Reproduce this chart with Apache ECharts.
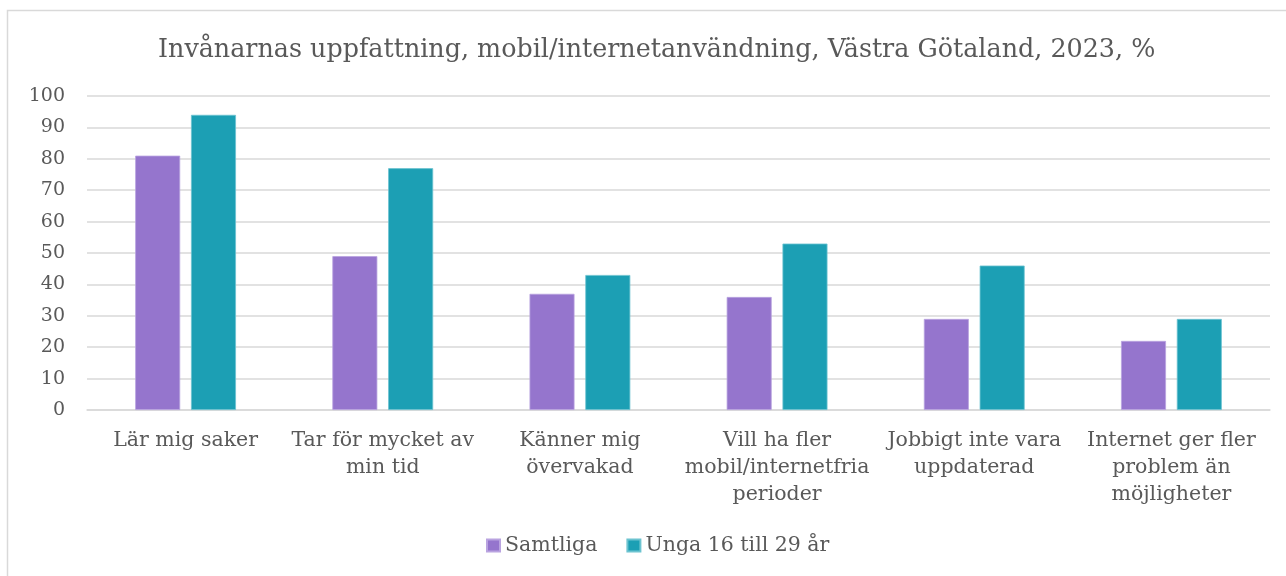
<!DOCTYPE html>
<html><head><meta charset="utf-8">
<script src="https://cdn.jsdelivr.net/npm/echarts@6/dist/echarts.min.js"></script>
<style>html,body{margin:0;padding:0;background:#fff}#c{width:1286px;height:576px}</style>
</head><body><div id="c"></div>
<script>
const categories = ["Lär mig saker","Tar för mycket av\nmin tid","Känner mig\növervakad","Vill ha fler\nmobil/internetfria\nperioder","Jobbigt inte vara\nuppdaterad","Internet ger fler\nproblem än\nmöjligheter"];
const samtliga = [81,49,37,36,29,22];
const unga = [94,77,43,53,46,29];
const seriesNames = ["Samtliga","Unga 16 till 29 år"];
const titleText = "Invånarnas uppfattning, mobil/internetanvändning, Västra Götaland, 2023, %";
const FONT = "'DejaVu Serif', Georgia, serif";
const chart = echarts.init(document.getElementById('c'));
chart.setOption({
  animation:false,
  textStyle:{fontFamily:FONT},
  graphic:[{type:'rect',shape:{x:7.5,y:10.5,width:1400,height:700},style:{fill:'none',stroke:'#d9d9d9',lineWidth:1.5},silent:true}],
  title:{text:titleText,left:153,top:33,textStyle:{fontFamily:FONT,fontWeight:'normal',fontSize:25.4,color:'#595959'}},
  legend:{bottom:20,left:486,padding:0,itemWidth:13,itemHeight:12,itemGap:29,icon:'rect',textStyle:{fontFamily:FONT,fontSize:20.5,color:'#595959'},data:seriesNames},
  grid:{left:87,right:16,top:96,bottom:166,containLabel:false},
  xAxis:{type:'category',data:categories,axisLine:{lineStyle:{color:'#d9d9d9',width:1.5}},axisTick:{show:false},
    axisLabel:{interval:0,fontFamily:FONT,fontSize:20.5,color:'#595959',lineHeight:27,margin:17}},
  yAxis:{type:'value',min:0,max:100,interval:10,axisLine:{show:false},axisTick:{show:false},
    splitLine:{lineStyle:{color:'#d9d9d9',width:1.5}},
    axisLabel:{fontFamily:FONT,fontSize:19,color:'#595959',margin:22}},
  series:[
    {name:seriesNames[0],type:'bar',data:samtliga,barWidth:45,barGap:'24%',itemStyle:{color:'#9575CD',borderColor:'#b9a3e0',borderWidth:0.8}},
    {name:seriesNames[1],type:'bar',data:unga,barWidth:45,itemStyle:{color:'#1C9FB4',borderColor:'#6cc3d0',borderWidth:0.8}}
  ]
});
</script></body></html>
